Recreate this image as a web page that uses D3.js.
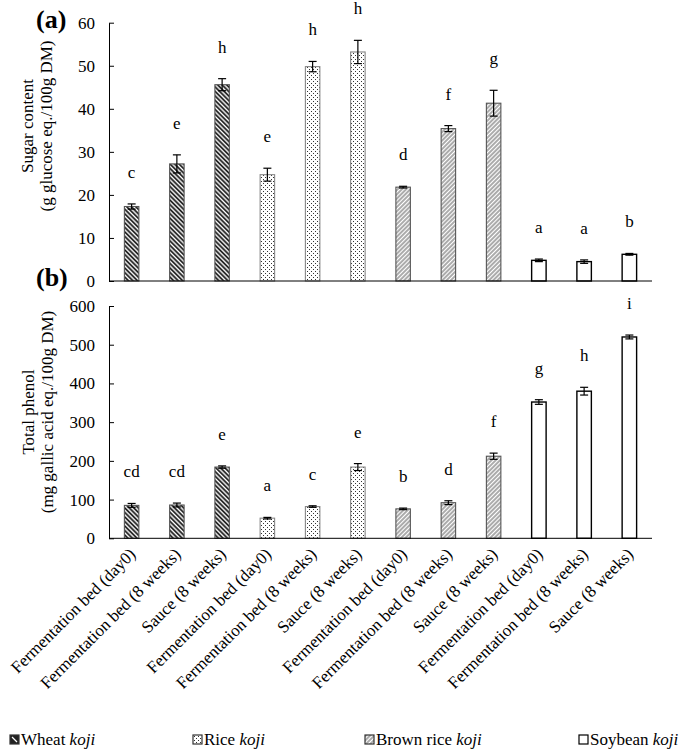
<!DOCTYPE html>
<html>
<head>
<meta charset="utf-8">
<script src="https://cdn.jsdelivr.net/npm/d3@7"></script>
<style>
  body { margin: 0; background: #fff; }
  svg { display: block; }
</style>
</head>
<body>
<svg id="chart" width="685" height="756" font-family="Liberation Serif, Times New Roman, serif"></svg>
<script>
// sample names (x axis), one per bar
var categories = ["Fermentation bed (day0)", "Fermentation bed (8 weeks)", "Sauce (8 weeks)",
                  "Fermentation bed (day0)", "Fermentation bed (8 weeks)", "Sauce (8 weeks)",
                  "Fermentation bed (day0)", "Fermentation bed (8 weeks)", "Sauce (8 weeks)",
                  "Fermentation bed (day0)", "Fermentation bed (8 weeks)", "Sauce (8 weeks)"];
var groups = ["wheat", "wheat", "wheat", "rice", "rice", "rice",
              "brown", "brown", "brown", "soy", "soy", "soy"];

// (a) sugar content
var sugar = [17.3, 27.2, 45.6, 24.7, 49.8, 53.2, 21.8, 35.4, 41.3, 4.8, 4.5, 6.2];
var sugarErr = [0.6, 2.1, 1.4, 1.5, 1.2, 2.7, 0.2, 0.7, 3.0, 0.3, 0.4, 0.2];
var sugarSig = ["c", "e", "h", "e", "h", "h", "d", "f", "g", "a", "a", "b"];
var sugarTicks = [0, 10, 20, 30, 40, 50, 60];

// (b) total phenol
var phenol = [85, 86, 184, 52, 82, 184, 76, 92, 212, 352, 380, 520];
var phenolErr = [5, 5, 3, 2, 2, 9, 2, 5, 8, 6, 10, 5];
var phenolSig = ["cd", "cd", "e", "a", "c", "e", "b", "d", "f", "g", "h", "i"];
var phenolTicks = [0, 100, 200, 300, 400, 500, 600];

var legendKeys = ["wheat", "rice", "brown", "soy"];
var legendNames = ["Wheat", "Rice", "Brown rice", "Soybean"];

var svg = d3.select("#chart");
var defs = svg.append("defs");

// fill patterns
var pw = defs.append("pattern").attr("id", "p-wheat")
  .attr("patternUnits", "userSpaceOnUse").attr("width", 3.2).attr("height", 3.2)
  .attr("patternTransform", "rotate(-45)");
pw.append("rect").attr("width", 3.2).attr("height", 3.2).attr("fill", "#fff");
pw.append("line").attr("x1", 1.1).attr("x2", 1.1).attr("y1", 0).attr("y2", 3.2)
  .attr("stroke", "#111").attr("stroke-width", 1.7);

var pb = defs.append("pattern").attr("id", "p-brown")
  .attr("patternUnits", "userSpaceOnUse").attr("width", 3).attr("height", 3)
  .attr("patternTransform", "rotate(45)");
pb.append("rect").attr("width", 3).attr("height", 3).attr("fill", "#fff");
pb.append("line").attr("x1", 1).attr("x2", 1).attr("y1", 0).attr("y2", 3)
  .attr("stroke", "#444").attr("stroke-width", 0.9);

var pr = defs.append("pattern").attr("id", "p-rice")
  .attr("patternUnits", "userSpaceOnUse").attr("width", 4).attr("height", 4);
pr.append("rect").attr("width", 4).attr("height", 4).attr("fill", "#fff");
pr.append("rect").attr("x", 1).attr("y", 1).attr("width", 1).attr("height", 1).attr("fill", "#333");
pr.append("rect").attr("x", 3).attr("y", 3).attr("width", 1).attr("height", 1).attr("fill", "#333");

var fillOf = { wheat: "url(#p-wheat)", rice: "url(#p-rice)", brown: "url(#p-brown)", soy: "#fff" };
var strokeOf = { wheat: "#555", rice: "#888", brown: "#555", soy: "#000" };

var x = d3.scaleBand()
    .domain(d3.range(categories.length))
    .range([109, 652])
    .paddingInner(0.68)
    .paddingOuter(0.34);

function panel(values, errs, sig, ticks, yRange, showLabels) {
  var y = d3.scaleLinear().domain([0, d3.max(ticks)]).range(yRange);
  var g = svg.append("g");

  g.selectAll("rect.bar")
    .data(values)
    .enter().append("rect")
      .attr("class", "bar")
      .attr("x", function(d, i) { return x(i); })
      .attr("width", x.bandwidth())
      .attr("y", function(d) { return y(d); })
      .attr("height", function(d) { return y(0) - y(d); })
      .attr("fill", function(d, i) { return fillOf[groups[i]]; })
      .attr("stroke", function(d, i) { return strokeOf[groups[i]]; })
      .attr("stroke-width", function(d, i) { return groups[i] == "soy" ? 1.4 : 1.1; });

  // error bars
  var eb = g.selectAll("g.err")
    .data(values)
    .enter().append("g")
      .attr("class", "err")
      .attr("stroke", "#000")
      .attr("stroke-width", 1.2);
  eb.append("line")
    .attr("x1", function(d, i) { return x(i) + x.bandwidth() / 2; })
    .attr("x2", function(d, i) { return x(i) + x.bandwidth() / 2; })
    .attr("y1", function(d, i) { return y(d - errs[i]); })
    .attr("y2", function(d, i) { return y(d + errs[i]); });
  [-1, 1].forEach(function(s) {
    eb.append("line")
      .attr("x1", function(d, i) { return x(i) + x.bandwidth() / 2 - 4; })
      .attr("x2", function(d, i) { return x(i) + x.bandwidth() / 2 + 4; })
      .attr("y1", function(d, i) { return y(d + s * errs[i]); })
      .attr("y2", function(d, i) { return y(d + s * errs[i]); });
  });

  // significance letters
  g.selectAll("text.sig")
    .data(values)
    .enter().append("text")
      .attr("class", "sig")
      .attr("x", function(d, i) { return x(i) + x.bandwidth() / 2; })
      .attr("y", function(d, i) { return y(d + errs[i]) - 26; })
      .attr("text-anchor", "middle")
      .attr("font-size", 17)
      .text(function(d, i) { return sig[i]; });

  var ya = g.append("g")
    .attr("transform", "translate(" + x.range()[0] + ",0)")
    .call(d3.axisLeft(y).tickValues(ticks).tickSizeInner(-5).tickSizeOuter(0).tickPadding(14));
  ya.attr("font-family", null).attr("font-size", 17);
  ya.selectAll("text").attr("fill", "#000");

  var xa = g.append("g")
    .attr("transform", "translate(0," + y(0) + ")")
    .call(d3.axisBottom(x).tickSize(0).tickFormat(function(i) { return showLabels ? categories[i] : ""; }));
  xa.attr("font-family", null).attr("font-size", 17);
  xa.select(".domain").attr("d", "M" + x.range()[0] + ",0H" + x.range()[1]);
  xa.selectAll("text")
    .attr("fill", "#000")
    .attr("x", 0).attr("y", 0).attr("dy", null)
    .attr("text-anchor", "end")
    .attr("transform", "translate(5,17) rotate(-45)");
  return y;
}

panel(sugar, sugarErr, sugarSig, sugarTicks, [281, 22.7], false);
panel(phenol, phenolErr, phenolSig, phenolTicks, [538.3, 306], true);

// panel tags
svg.append("text").attr("x", 36).attr("y", 28).attr("font-size", 26).attr("font-weight", "bold").text("(a)");
svg.append("text").attr("x", 36).attr("y", 286).attr("font-size", 26).attr("font-weight", "bold").text("(b)");

// y titles
function yTitle(cx, cy, l1, l2) {
  var t = svg.append("text")
    .attr("transform", "translate(" + cx + "," + cy + ") rotate(-90)")
    .attr("text-anchor", "middle")
    .attr("font-size", 17);
  t.append("tspan").attr("x", 0).attr("y", 0).text(l1);
  t.append("tspan").attr("x", 0).attr("y", 19).text(l2);
}
yTitle(33, 126, "Sugar content", "(g glucose eq./100g DM)");
yTitle(34, 412, "Total phenol", "(mg gallic acid eq./100g DM)");

// legend
var legendX = [10, 193, 365, 579];
var lg = svg.append("g").selectAll("g")
  .data(legendKeys)
  .enter().append("g")
    .attr("transform", function(d, i) { return "translate(" + legendX[i] + ",735)"; });
lg.append("rect")
  .attr("width", 9).attr("height", 9)
  .attr("fill", function(d) { return d == "wheat" ? "#222" : fillOf[d]; })
  .attr("stroke", function(d) { return d == "soy" ? "#000" : "#333"; })
  .attr("stroke-width", 1.2);
lg.filter(function(d) { return d == "wheat"; }).append("line")
  .attr("x1", 2).attr("y1", 2).attr("x2", 7).attr("y2", 7)
  .attr("stroke", "#fff").attr("stroke-width", 1.3);
var lt = lg.append("text").attr("x", 11).attr("y", 10).attr("font-size", 17);
lt.append("tspan").text(function(d, i) { return legendNames[i] + " "; });
lt.append("tspan").attr("font-style", "italic").text("koji");
</script>
</body>
</html>
